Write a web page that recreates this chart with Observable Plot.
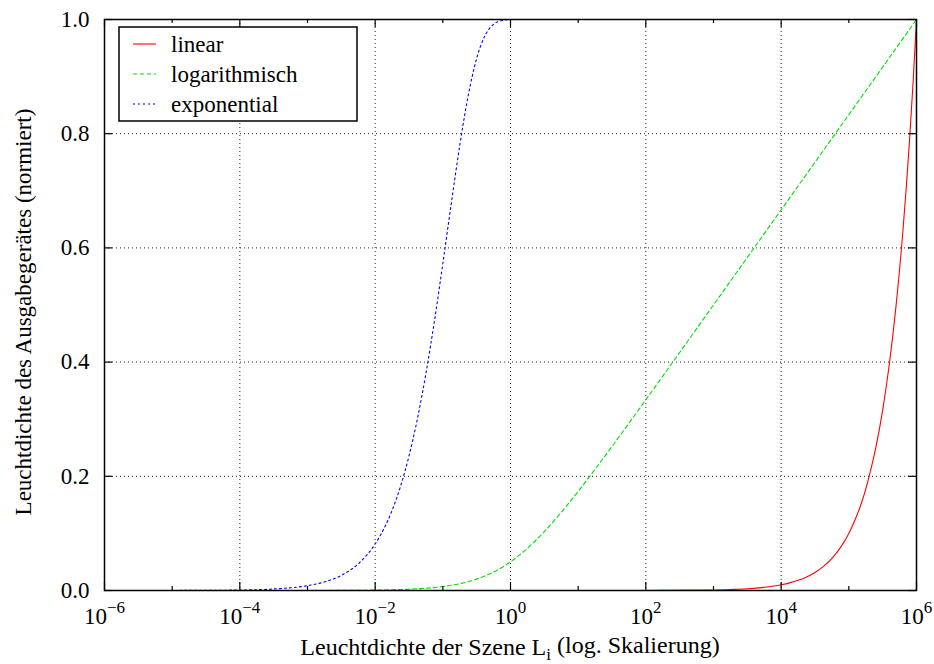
<!DOCTYPE html>
<html>
<head>
<meta charset="utf-8">
<script src="https://cdn.jsdelivr.net/npm/d3@7"></script>
<script src="https://cdn.jsdelivr.net/npm/@observablehq/plot@0.6"></script>
<style>
  html, body { margin: 0; padding: 0; background: #fff; }
  #chart { width: 934px; height: 664px; }
</style>
</head>
<body>
<div id="chart"></div>
<script>
// ---- data ----
const seriesNames = ["linear", "logarithmisch", "exponential"];
const seriesColors = ["#ff0000", "#00e000", "#0000ff"];

// linear: x as decimal exponent of L, y normalised output
const linExp = [-6, 0, 2, 3, 3.25, 3.5, 3.75, 4, 4.125, 4.25, 4.375, 4.5, 4.625, 4.75, 4.875, 5, 5.1, 5.2, 5.3, 5.4, 5.5, 5.6, 5.7, 5.8, 5.85, 5.9, 5.95, 6];
const linY   = [0, 0.000001, 0.0001, 0.001, 0.0018, 0.003, 0.0056, 0.01, 0.0133, 0.0178, 0.0237, 0.0316, 0.0422, 0.0562, 0.075, 0.1, 0.126, 0.158, 0.2, 0.251, 0.316, 0.398, 0.501, 0.631, 0.708, 0.794, 0.891, 1.0];

// logarithmisch
const logExp = [-6, -4, -3, -2.5, -2, -1.75, -1.5, -1.25, -1, -0.75, -0.5, -0.25, 0, 0.25, 0.5, 0.75, 1, 1.25, 1.5, 1.75, 2, 2.5, 3, 4, 5, 6];
const logY   = [0, 0.00001, 0.00007, 0.0002, 0.0007, 0.0013, 0.0023, 0.0040, 0.0069, 0.0119, 0.0199, 0.0323, 0.0502, 0.0739, 0.1032, 0.1369, 0.1736, 0.2123, 0.2523, 0.2929, 0.3340, 0.4169, 0.5001, 0.6667, 0.8333, 1.0];

// exponential
const expExp = [-6, -5, -4, -3.5, -3, -2.75, -2.5, -2.25, -2, -1.875, -1.75, -1.625, -1.5, -1.375, -1.25, -1.125, -1, -0.875, -0.75, -0.625, -0.5, -0.375, -0.25, -0.125, 0];
const expY   = [0, 0.0001, 0.0008, 0.0027, 0.0085, 0.0150, 0.0265, 0.0467, 0.0815, 0.1072, 0.1403, 0.1825, 0.2357, 0.3012, 0.380, 0.4713, 0.5726, 0.678, 0.7794, 0.8667, 0.932, 0.9722, 0.9916, 0.9983, 1.0];

// ticks
const xLabelExps = [-6, -4, -2, 0, 2, 4, 6];
const xGridExps  = [-4, -2, 0, 2, 4];
const xMinorExps = [-5, -3, -1, 1, 3, 5];
const yTicks     = [0, 0.2, 0.4, 0.6, 0.8, 1.0];
const yGrid      = [0.2, 0.4, 0.6, 0.8];

const xTitle = "Leuchtdichte der Szene L";
const xTitleSub = "i";
const xTitleTail = " (log. Skalierung)";
const yTitle = "Leuchtdichte des Ausgabegerätes (normiert)";

// ---- build table ----
const rows = [];
linExp.forEach((e, i) => rows.push({s: seriesNames[0], L: 10 ** e, v: linY[i]}));
logExp.forEach((e, i) => rows.push({s: seriesNames[1], L: 10 ** e, v: logY[i]}));
expExp.forEach((e, i) => rows.push({s: seriesNames[2], L: 10 ** e, v: expY[i]}));

const W = 934, H = 664, mL = 104, mR = 18, mT = 19, mB = 74;
const iw = W - mL - mR, ih = H - mT - mB;
const font = "Liberation Serif";
const dashes = [null, "4,3", "2,3"];

const chart = Plot.plot({
  width: W, height: H,
  marginLeft: mL, marginRight: mR, marginTop: mT, marginBottom: mB,
  x: {type: "log", domain: [1e-6, 1e6]},
  y: {domain: [0, 1]},
  style: {fontFamily: font, fontSize: "20px", background: "#fff", color: "#000"},
  marks: [
    Plot.gridX(xGridExps.map(e => 10 ** e), {stroke: "#000", strokeOpacity: 0.85, strokeDasharray: "1,3"}),
    Plot.gridY(yGrid, {stroke: "#000", strokeOpacity: 0.85, strokeDasharray: "1,3"}),
    ...seriesNames.map((name, i) => Plot.line(rows.filter(r => r.s === name), {
      x: "L", y: "v", stroke: seriesColors[i], strokeWidth: 1.1, curve: "monotone-x",
      strokeDasharray: dashes[i] || undefined
    })),
    // inward ticks (bottom/top)
    Plot.ruleX(xLabelExps.map(e => 10 ** e), {x: d => d, insetTop: ih - 8, stroke: "#000", strokeWidth: 1.2}),
    Plot.ruleX(xLabelExps.map(e => 10 ** e), {x: d => d, insetBottom: ih - 8, stroke: "#000", strokeWidth: 1.2}),
    Plot.ruleX(xMinorExps.map(e => 10 ** e), {x: d => d, insetTop: ih - 4, stroke: "#000", strokeWidth: 1.2}),
    Plot.ruleX(xMinorExps.map(e => 10 ** e), {x: d => d, insetBottom: ih - 4, stroke: "#000", strokeWidth: 1.2}),
    // inward ticks (left/right)
    Plot.ruleY(yTicks, {y: d => d, insetRight: iw - 8, stroke: "#000", strokeWidth: 1.2}),
    Plot.ruleY(yTicks, {y: d => d, insetLeft: iw - 8, stroke: "#000", strokeWidth: 1.2}),
    Plot.axisX(xLabelExps.map(e => 10 ** e), {
      tickSize: 0, tickPadding: 17, label: null,
      tickFormat: d => "10^" + Math.round(Math.log10(d)),
      fontSize: 23, fontFamily: font
    }),
    Plot.axisY(yTicks, {
      tickSize: 0, tickPadding: 15, label: null,
      tickFormat: d => d.toFixed(1), fontSize: 23, fontFamily: font
    }),
    Plot.frame({stroke: "#000", strokeWidth: 1.5})
  ]
});

document.getElementById("chart").appendChild(chart);
const svg = d3.select(chart);

// superscript exponents for x tick labels
svg.selectAll('g[aria-label="x-axis tick label"] text').each(function() {
  const t = this.textContent;
  if (!t.startsWith("10^")) return;
  const ex = t.slice(3).replace("-", "\u2212");
  const el = d3.select(this);
  el.text("");
  el.append("tspan").text("10");
  el.append("tspan").attr("dy", "-0.62em").attr("font-size", "17").text(ex);
});

// axis titles
const xt = svg.append("text")
  .attr("x", mL + iw / 2).attr("y", 655)
  .attr("text-anchor", "middle")
  .attr("font-family", font).attr("font-size", 24).attr("fill", "#000");
xt.append("tspan").text(xTitle);
xt.append("tspan").attr("dy", "0.3em").attr("font-size", 17).text(xTitleSub);
xt.append("tspan").attr("dy", "-0.3em").text(xTitleTail);

svg.append("text")
  .attr("transform", `translate(31,${312}) rotate(-90)`)
  .attr("text-anchor", "middle")
  .attr("font-family", font).attr("font-size", 23).attr("fill", "#000")
  .text(yTitle);

// legend box
const lg = svg.append("g");
lg.append("rect").attr("x", 119).attr("y", 27).attr("width", 238).attr("height", 94)
  .attr("fill", "#fff").attr("stroke", "#000").attr("stroke-width", 1.5);
seriesNames.forEach((name, i) => {
  const cy = 44 + i * 30;
  lg.append("line").attr("x1", 133).attr("x2", 156).attr("y1", cy).attr("y2", cy)
    .attr("stroke", seriesColors[i]).attr("stroke-width", 1.1)
    .attr("stroke-dasharray", dashes[i] || null);
  lg.append("text").attr("x", 171).attr("y", cy).attr("dy", "0.33em")
    .attr("text-anchor", "start")
    .attr("font-family", font).attr("font-size", 23).attr("fill", "#000")
    .text(name);
});
</script>
</body>
</html>
